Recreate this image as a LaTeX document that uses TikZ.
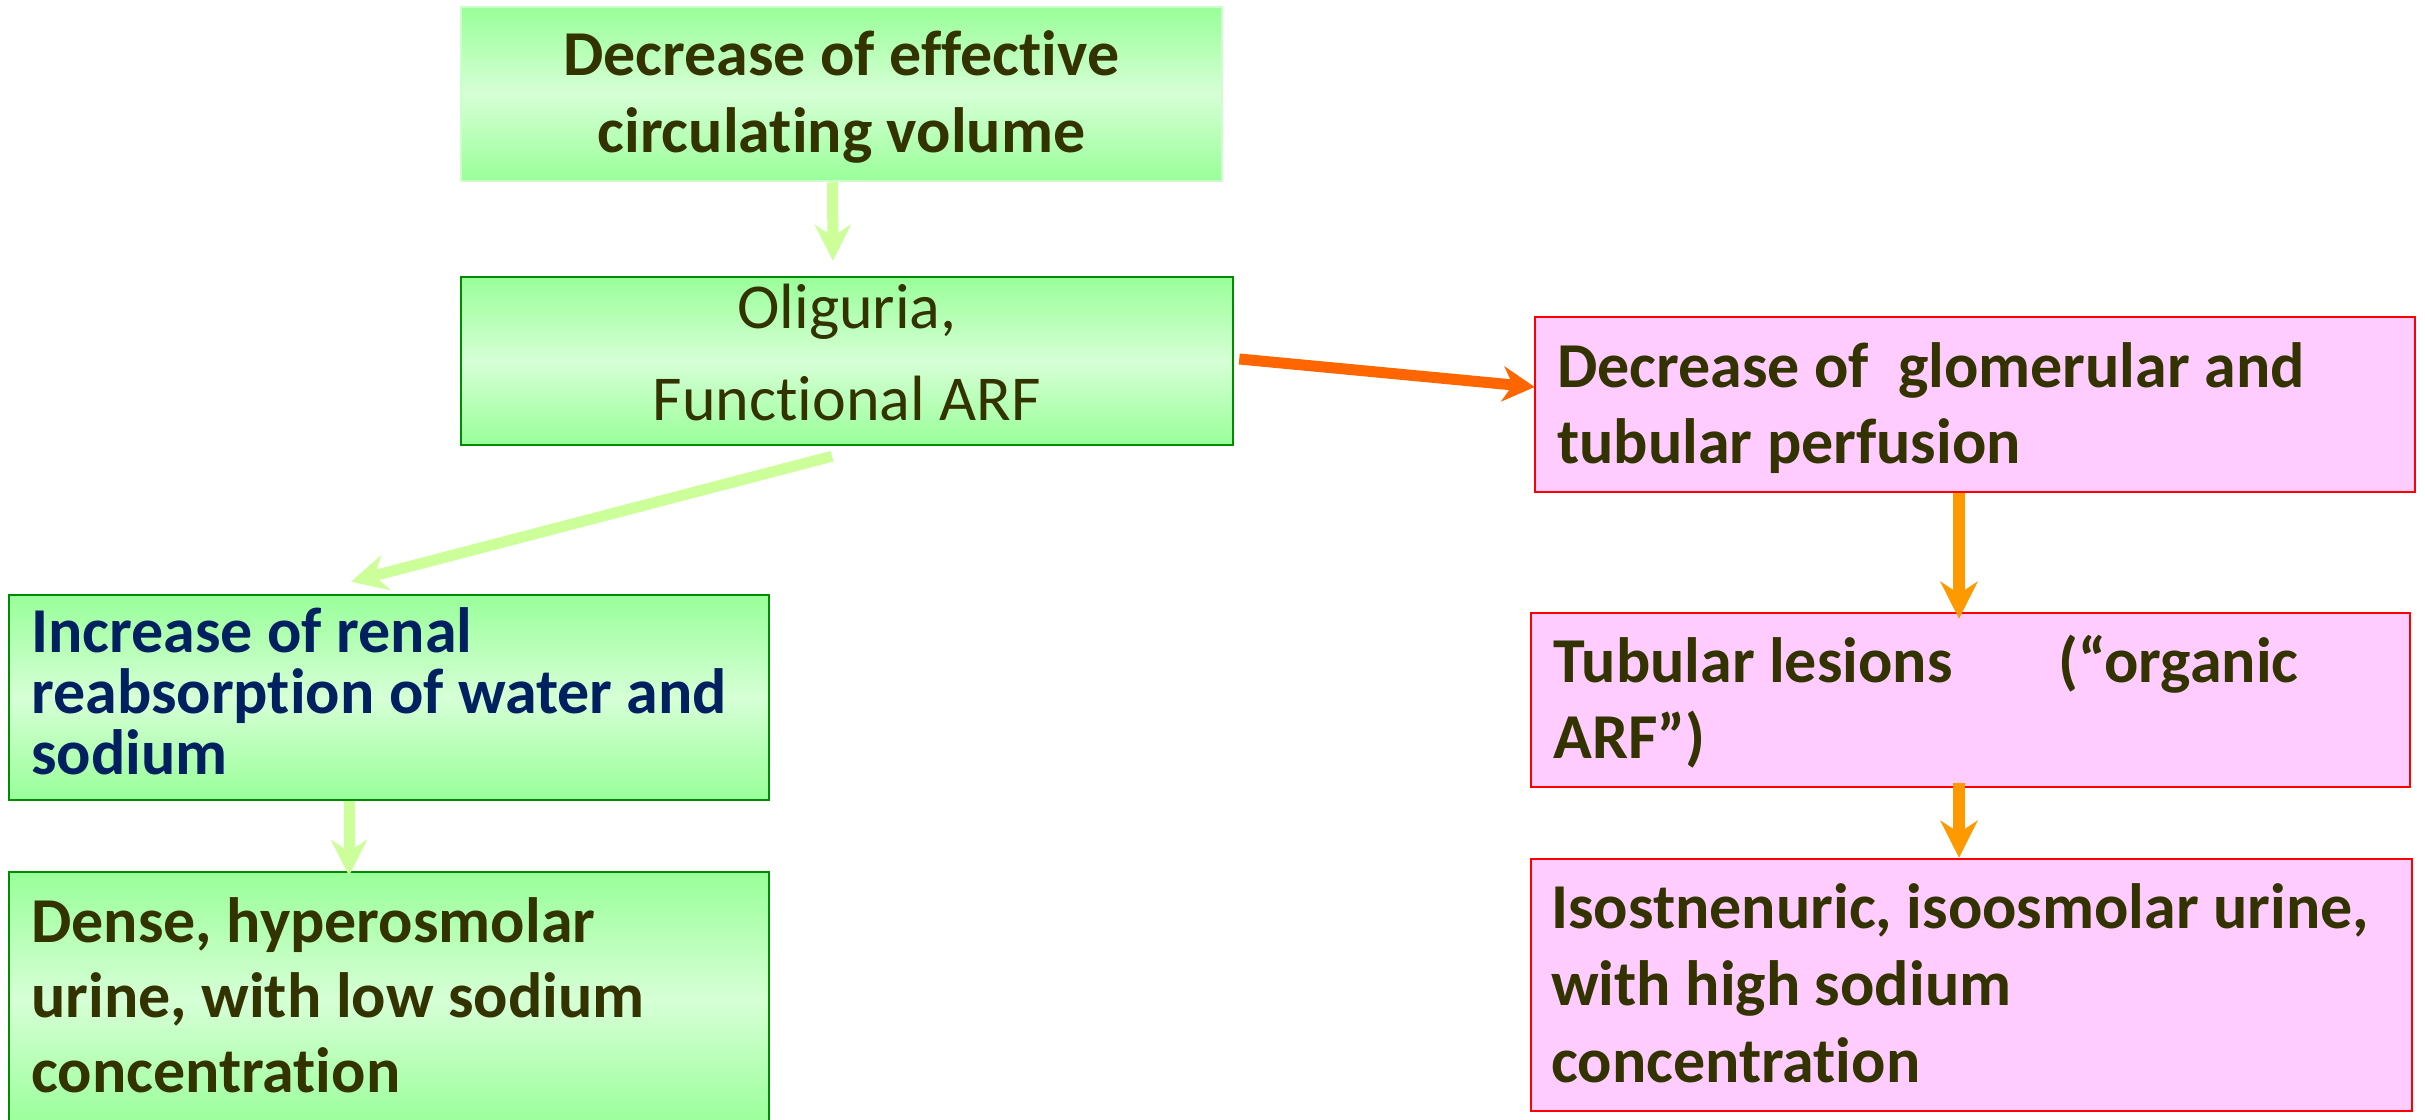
\documentclass[tikz,border=0pt]{standalone}
\usepackage{fontspec}
\setmainfont{Carlito}[Ligatures=NoCommon]
\usetikzlibrary{arrows.meta,calc}
\definecolor{gout}{RGB}{153,255,153}
\definecolor{gmid}{RGB}{214,255,214}
\definecolor{gedge}{RGB}{0,140,0}
\definecolor{gedgelight}{RGB}{204,255,204}
\definecolor{pinkfill}{RGB}{255,204,255}
\definecolor{txtolive}{RGB}{51,51,0}
\definecolor{txtnavy}{RGB}{0,32,96}
\definecolor{garrowc}{RGB}{204,255,153}
\definecolor{redorange}{RGB}{255,102,0}
\definecolor{orangec}{RGB}{255,153,0}
\tikzset{
  greenbox/.style={rectangle, inner sep=0pt, top color=gout, bottom color=gout, middle color=gmid, draw=gedge, line width=2.5pt},
  pinkbox/.style={rectangle, inner sep=0pt, fill=pinkfill, draw=red, line width=2.5pt},
  bigtext/.style={inner sep=0pt, text=txtolive, font=\fontsize{64}{76}\selectfont\bfseries},
  garrow/.style={draw=garrowc, line width=11pt, -{Stealth[length=36pt,width=36pt,inset=12pt]}},
  oarrow/.style={draw=orangec, line width=12pt, -{Stealth[length=37pt,width=37pt,inset=12pt]}},
  rarrow/.style={draw=redorange, line width=11pt, -{Stealth[length=32pt,width=35pt,inset=10pt]}}
}
\begin{document}
\begin{tikzpicture}[x=1pt,y=-1pt]
\useasboundingbox (0,0) rectangle (2425,1119);
% boxes
\node[greenbox, draw=gedgelight, minimum width=761pt, minimum height=174pt] (A) at (841.5,94) {};
\node[greenbox, minimum width=772pt, minimum height=168pt] (B) at (847,361) {};
\node[greenbox, minimum width=760pt, minimum height=205pt] (C) at (389,697.5) {};
\node[greenbox, minimum width=760pt, minimum height=255pt] (D) at (389,999.5) {};
\node[pinkbox, minimum width=880pt, minimum height=175pt] (E) at (1975,404.5) {};
\node[pinkbox, minimum width=879pt, minimum height=174pt] (F) at (1970.5,700) {};
\node[pinkbox, minimum width=881pt, minimum height=252pt] (G) at (1971.5,985) {};
% texts (anchor base = baseline of the last line)
\node[bigtext, font=\fontsize{64}{77}\selectfont\bfseries, align=center, anchor=base] (tA) at (841.5,152) {Decrease of effective\\circulating volume};
\node[inner sep=0pt, text=txtolive, font=\fontsize{64}{92}\selectfont, align=center, anchor=base] (tB) at (847,420) {Oliguria,\\Functional ARF};
\node[bigtext, text=txtnavy, font=\fontsize{64}{61}\selectfont\bfseries, align=left, anchor=base west] (tC) at (31,774) {Increase of renal\\reabsorption of water and\\sodium};
\node[bigtext, font=\fontsize{64}{75}\selectfont\bfseries, align=left, anchor=base west] (tD) at (31,1092) {Dense, hyperosmolar\\urine, with low sodium\\concentration};
\node[bigtext, align=left, anchor=base west] (tE) at (1557,463) {Decrease of\ \ glomerular and\\tubular perfusion};
\node[bigtext, align=left, anchor=base west] (tF) at (1553,758) {Tubular lesions\hspace{106pt}(“organic\\ARF”)};
\node[bigtext, font=\fontsize{64}{77}\selectfont\bfseries, align=left, anchor=base west] (tG) at (1551,1082) {Isostnenuric, isoosmolar urine,\\with high sodium\\concentration};
% connectors
\draw[garrow] ($(A.south)+(-9,0)$) -- ($(B.north)+(-14,-15)$);
\draw[garrow] ($(B.south)+(-15,10)$) -- ($(C.north)+(-38,-12)$);
\draw[garrow] ($(C.south)+(-40,0)$) -- ($(D.north)+(-40,5)$);
\draw[rarrow] ($(B.east)+(5,-2)$) -- ($(E.west)+(1,-17.5)$);
\draw[oarrow] ($(E.south)+(-16,0)$) -- ($(F.north)+(-11.5,7)$);
\draw[oarrow] ($(F.south)+(-11.5,-5)$) -- ($(G.north)+(-12.5,0)$);
\end{tikzpicture}
\end{document}
